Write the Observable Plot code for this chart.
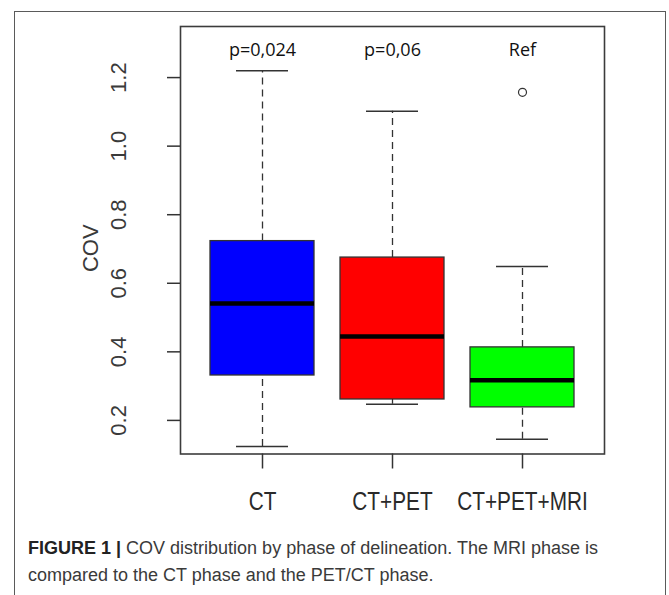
<!DOCTYPE html>
<html>
<head>
<meta charset="utf-8">
<script src="https://cdn.jsdelivr.net/npm/d3@7"></script>
<script src="https://cdn.jsdelivr.net/npm/@observablehq/plot@0.6"></script>
<style>
  html, body { margin: 0; padding: 0; background: #fff; }
  #page { position: relative; width: 669px; height: 595px; overflow: hidden; }
  #outer { position: absolute; left: 14px; top: 11px; width: 652px; height: 640px;
           border: 1.5px solid #5a5a5a; box-sizing: border-box; }
  #chart { position: absolute; left: 0; top: 0; }
  #caption { position: absolute; left: 28px; top: 535px; width: 630px;
             font-family: "Liberation Sans", Arial, sans-serif;
             font-size: 18px; line-height: 27px; color: #3a3a3a; }
  #caption b { color: #222; }
</style>
</head>
<body>
<div id="page">
  <div id="outer"></div>
  <div id="chart"></div>
  <div id="caption"><b>FIGURE 1 |</b> COV distribution by phase of delineation. The MRI phase is<br>compared to the CT phase and the PET/CT phase.</div>
</div>
<script>
const categories = ["CT", "CT+PET", "CT+PET+MRI"];
const lowWhisker = [0.124, 0.247, 0.145];
const q1 = [0.331, 0.261, 0.238];
const medians = [0.541, 0.445, 0.317];
const q3 = [0.723, 0.675, 0.413];
const highWhisker = [1.220, 1.102, 0.649];
const outlierCats = ["CT+PET+MRI"];
const outlierValues = [1.157];
const pLabels = ["p=0,024", "p=0,06", "Ref"];
const boxColors = ["#0000ff", "#ff0000", "#00ff00"];
const yTicks = [0.2, 0.4, 0.6, 0.8, 1.0, 1.2];

const idx = categories.map((_, i) => i);
const oidx = outlierValues.map((_, i) => i);
const ink = "#333";

const chart = Plot.plot({
  width: 669,
  height: 520,
  marginLeft: 180,
  marginRight: 65,
  marginTop: 26,
  marginBottom: 66.5,
  x: {type: "band", domain: categories, paddingInner: 0.2, paddingOuter: 0.2185, align: 0.5, axis: null},
  y: {domain: [0.102, 1.349], axis: null},
  color: {type: "identity"},
  marks: [
    Plot.ruleX(idx, {x: i => categories[i], y1: i => q3[i], y2: i => highWhisker[i], stroke: ink, strokeWidth: 1.3, strokeDasharray: "7,5"}),
    Plot.ruleX(idx, {x: i => categories[i], y1: i => lowWhisker[i], y2: i => q1[i], stroke: ink, strokeWidth: 1.3, strokeDasharray: "7,5"}),
    Plot.tickY(idx, {x: i => categories[i], y: i => highWhisker[i], insetLeft: 26, insetRight: 26, stroke: ink, strokeWidth: 1.5}),
    Plot.tickY(idx, {x: i => categories[i], y: i => lowWhisker[i], insetLeft: 26, insetRight: 26, stroke: ink, strokeWidth: 1.5}),
    Plot.barY(idx, {x: i => categories[i], y1: i => q1[i], y2: i => q3[i], fill: i => boxColors[i], stroke: ink, strokeWidth: 1.3}),
    Plot.tickY(idx, {x: i => categories[i], y: i => medians[i], stroke: "#000", strokeWidth: 4.5}),
    Plot.dot(oidx, {x: i => outlierCats[i], y: i => outlierValues[i], r: 4, stroke: ink, strokeWidth: 1.2, fill: "none"}),
    Plot.frame({stroke: "#3c3c3c", strokeWidth: 1.6}),
    Plot.axisY(yTicks, {tickSize: 13, tickFormat: () => "", label: null, stroke: ink, strokeWidth: 1.5}),
    Plot.axisX({tickSize: 15, tickFormat: () => "", label: null, stroke: ink, strokeWidth: 1.5}),
    Plot.text(yTicks, {y: d => d, text: d => d.toFixed(1), frameAnchor: "left", dx: -62, rotate: -90,
      textAnchor: "middle", fontSize: 22, fontFamily: "Liberation Sans", fill: "#3a3a3a"}),
    Plot.text(["COV"], {text: d => d, frameAnchor: "left", dx: -90, dy: 8, rotate: -90,
      textAnchor: "middle", fontSize: 22, fontFamily: "Liberation Sans", fill: "#3a3a3a"}),
    Plot.text(categories, {x: d => d, text: d => d, frameAnchor: "bottom", lineAnchor: "bottom", dy: 55.5,
      fontSize: 26, fontFamily: "Liberation Sans", fill: "#2a2a2a"}),
    Plot.text(idx, {x: i => categories[i], text: i => pLabels[i], frameAnchor: "top", lineAnchor: "bottom", dy: 29,
      fontSize: 18, fontFamily: "Open Sans", fill: "#111"})
  ]
});

// condense the category labels horizontally (narrow face look)
d3.select(chart).selectAll("text")
  .filter(function () { return categories.includes(this.textContent); })
  .each(function () {
    const el = d3.select(this);
    const t = el.attr("transform");
    if (t) {
      el.attr("transform", t + " scale(0.8,1)");
    } else {
      const x = +el.attr("x") || 0;
      el.attr("transform", `translate(${x},0) scale(0.8,1) translate(${-x},0)`);
    }
  });

document.getElementById("chart").appendChild(chart);
</script>
</body>
</html>
